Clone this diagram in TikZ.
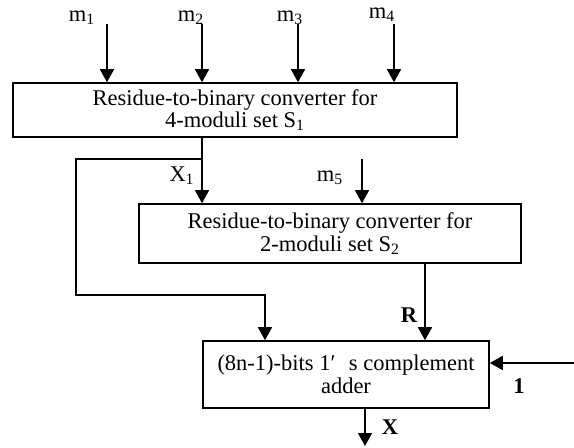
\documentclass[tikz,border=0pt]{standalone}
\usepackage{fontspec}
\setmainfont{Liberation Serif}
\usetikzlibrary{arrows.meta,calc}

\tikzset{
	blk/.style={draw, line width=0.9pt, align=center, inner sep=0pt, font=\fontsize{12.8}{12.8}\selectfont},
	lbl/.style={font=\fontsize{12.8}{12.8}\selectfont, inner sep=0pt},
	arr/.style={line width=0.9pt, -{Triangle[width=0.28cm, length=0.26cm]}},
	ln/.style={line width=0.9pt}
}

\begin{document}
\begin{tikzpicture}[x=0.02cm, y=-0.02cm]
		%%%%% START %%%%%
		\useasboundingbox (0, 0) rectangle (574, 448);
		
		\node[blk, minimum width=8.88cm, minimum height=1.08cm] (conv1) at (235, 110) {Residue-to-binary converter for\\4-moduli set S\textsubscript{1}};
		\node[blk, minimum width=7.64cm, minimum height=1.18cm] (conv2) at (330, 233.5) {Residue-to-binary converter for\\2-moduli set S\textsubscript{2}};
		\node[blk, minimum width=5.72cm, minimum height=1.34cm] (adder) at (346, 374.5) {(8n-1)-bits 1′\hspace{0.6em}s complement\\adder};
		
		% residues coming in from the top
		\coordinate (m1in) at (107, 24);
		\coordinate (m2in) at (202, 24);
		\coordinate (m3in) at (298, 24);
		\coordinate (m4in) at (394, 24);
		\node[lbl] (m1) at (82, 18) {m\textsubscript{1}};
		\node[lbl] (m2) at (191, 18) {m\textsubscript{2}};
		\node[lbl] (m3) at (290, 18) {m\textsubscript{3}};
		\node[lbl] (m4) at (382, 15) {m\textsubscript{4}};
		\foreach \i in {1,...,4}
			\draw[arr] (m\i in) -- (m\i in |- conv1.north);
		
		% X1 goes down and around to the adder
		\coordinate (split) at (202, 159);
		\coordinate (bypass) at (76, 295);
		\coordinate (xin) at (265, 0);
		\draw[ln] (split |- conv1.south) -- (split);
		\draw[arr] (split) -- (split |- conv2.north);
		\draw[arr] (split) -| (bypass) -| (xin |- adder.north);
		\node[lbl] (x1) at (182, 176) {X\textsubscript{1}};
		
		\coordinate (m5in) at (362, 159);
		\node[lbl] (m5) at (330, 178) {m\textsubscript{5}};
		\draw[arr] (m5in) -- (m5in |- conv2.north);
		
		\coordinate (rx) at (425, 0);
		\draw[arr] (rx |- conv2.south) -- (rx |- adder.north);
		\node[lbl, font=\fontsize{12.8}{12.8}\selectfont\bfseries] (r) at (409, 315) {R};
		
		\coordinate (cin) at (574, 363);
		\draw[arr] (cin) -- (cin -| adder.east);
		\node[lbl, font=\fontsize{12.8}{12.8}\selectfont\bfseries] (one) at (519, 386) {1};
		
		\coordinate (xout) at (365, 446);
		\draw[arr] (xout |- adder.south) -- (xout);
		\node[lbl, font=\fontsize{12.8}{12.8}\selectfont\bfseries] (x) at (390, 427) {X};
		%%%%% END %%%%%
\end{tikzpicture}
\end{document}
